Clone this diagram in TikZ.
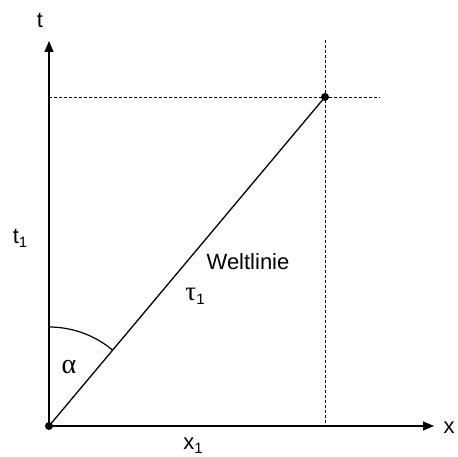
\documentclass[tikz,border=0pt]{standalone}
\usepackage{fontspec}
\setmainfont{Liberation Sans}
\newfontfamily\grk{Liberation Serif}
\usetikzlibrary{arrows.meta}
\begin{document}
\begin{tikzpicture}[x=1pt,y=-1pt,
  axis/.style={line width=1.4pt,-{Triangle[length=11pt,width=9pt]}},
  guide/.style={line width=0.6pt,dash pattern=on 3pt off 2pt},
  lbl/.style={font=\fontsize{22}{26}\selectfont,inner sep=0pt}]
\useasboundingbox (0,0) rectangle (458,457);
\coordinate (O) at (49,426);
\coordinate (P) at (325,97);
\coordinate (tt) at (49,41);
\coordinate (xt) at (434,426);
\coordinate (hd) at (380,97);
\coordinate (vt) at (325,40);
\coordinate (vb) at (325,426);
\coordinate (hl) at (49,97);
\draw[guide] (hl) -- (hd);
\draw[guide] (vt) -- (vb);
\draw[axis] (O) -- (tt);
\draw[axis] (O) -- (xt);
\draw[line width=1.3pt] (O) -- (P);
\draw[line width=1.2pt] (49,327) arc[start angle=-90, end angle=-50, radius=99];
\fill (O) circle[radius=4];
\fill (P) circle[radius=4];
\node[lbl] (t) at (40,20) {t};
\node[lbl] (x) at (449,428) {x};
\node[lbl] (t1) at (20,238) {t\raisebox{-0.35ex}{\fontsize{15}{18}\selectfont 1}};
\node[lbl] (x1) at (193,446) {x\raisebox{-0.35ex}{\fontsize{15}{18}\selectfont 1}};
\node[lbl] (wl) at (248,262) {Weltlinie};
\node[lbl] (tau) at (195,296) {{\grk\fontsize{27}{30}\selectfont τ}\raisebox{-0.35ex}{\fontsize{15}{18}\selectfont 1}};
\node[lbl] (al) at (69,367) {\grk\fontsize{28}{30}\selectfont α};
\end{tikzpicture}
\end{document}
